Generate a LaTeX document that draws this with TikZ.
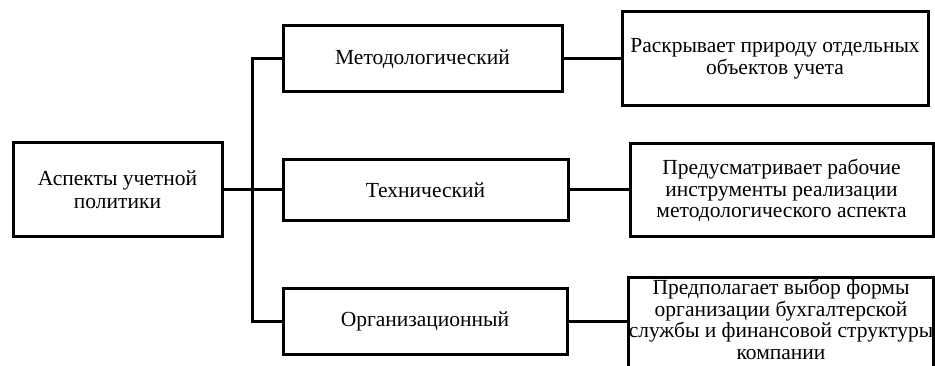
\documentclass[tikz,border=0pt]{standalone}
\usepackage{fontspec}
\setmainfont{Liberation Serif}
\begin{document}
\begin{tikzpicture}[x=1pt,y=-1pt,
  box/.style={draw=black, line width=3pt, inner sep=0pt, align=center, fill=white,
    font=\fontsize{21.5}{21.7}\selectfont},
  txt/.style={inner sep=0pt, align=center, font=\fontsize{21.5}{21.7}\selectfont},
  conn/.style={draw=black, line width=3pt}]
\useasboundingbox (0,0) rectangle (935,366);
\clip (0,0) rectangle (935,366);
\fill[white] (0,0) rectangle (935,366);
% main box
\node[box, minimum width=209pt, minimum height=94pt, font=\fontsize{21.5}{23}\selectfont] (L) at (117.5,190) {Аспекты учетной\\политики};
% middle boxes
\node[box, minimum width=279pt, minimum height=66pt] (M) at (422.5,59) {Методологический};
\node[box, minimum width=285pt, minimum height=61pt] (T) at (425.5,190) {Технический};
\node[box, minimum width=284pt, minimum height=65pt] (O) at (425,321.5) {Организационный};
% right boxes
\node[box, minimum width=306pt, minimum height=94pt] (R1) at (775,59) {Раскрывает природу отдельных\\объектов учета};
\node[box, minimum width=303pt, minimum height=93pt] (R2) at (781.5,190.5) {Предусматривает рабочие\\инструменты реализации\\методологического аспекта};
\node[box, minimum width=305pt, minimum height=130pt, anchor=north] (R3) at (780.5,276.5) {};
\node[txt, anchor=north] (R3t) at (781,279) {Предполагает выбор формы\\организации бухгалтерской\\службы и финансовой структуры\\компании};
% connectors
\coordinate (bus) at (252,190);
\draw[conn] (L.east) -- (bus);
\draw[conn] (M.west) -| (bus |- O.west) -- (O.west);
\draw[conn] (bus) -- (T.west);
\draw[conn] (M.east) -- (M.east -| R1.west);
\draw[conn] (T.east) -- (T.east -| R2.west);
\draw[conn] (O.east) -- (O.east -| R3.west);
\end{tikzpicture}
\end{document}
